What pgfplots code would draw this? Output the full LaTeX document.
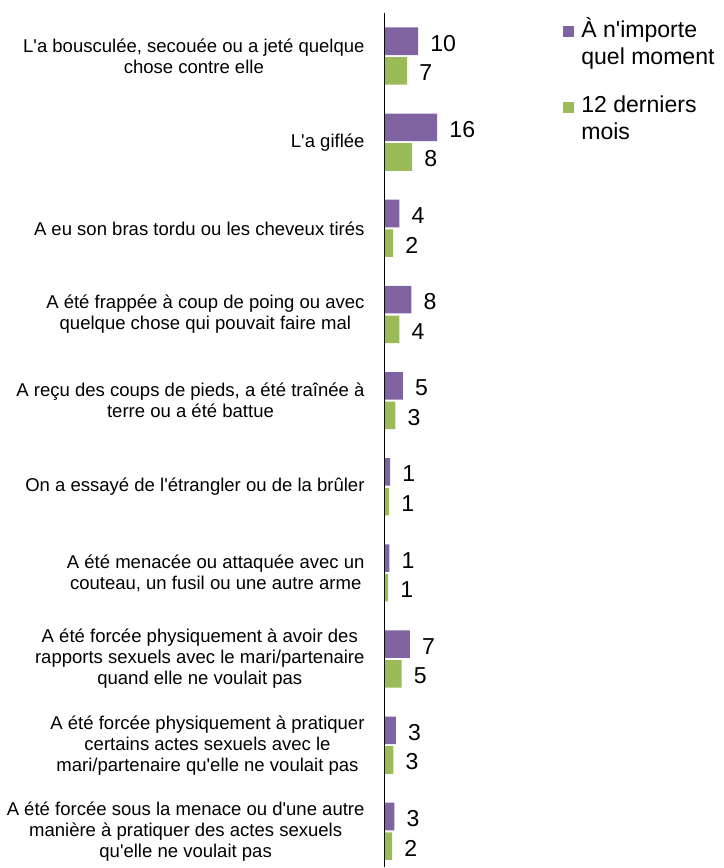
\documentclass[border=0pt]{standalone}
\usepackage{pgfplots}
\pgfplotsset{compat=1.18}
\usepackage{pgfplotstable}
\usepackage{fontspec}
\setmainfont{Liberation Sans}
\newcommand{\q}{\textquotesingle}
\definecolor{violetbar}{HTML}{8064A2}
\definecolor{vertbar}{HTML}{9BBB59}

\pgfplotstableread{
c v l
0 10.1 10
1 15.9 16
2 4.4 4
3 8.1 8
4 5.5 5
5 1.6 1
6 1.4 1
7 7.6 7
8 3.4 3
9 2.9 3
}\tablePurple

\pgfplotstableread{
c v l
0 6.8 7
1 8.3 8
2 2.5 2
3 4.4 4
4 3.2 3
5 1.3 1
6 1.0 1
7 5.1 5
8 2.6 3
9 2.2 2
}\tableGreen

\begin{document}
\begin{tikzpicture}
\begin{axis}[
  scale only axis,
  width=123.75pt, height=641.25pt,
  xmin=0, xmax=50,
  ymin=-0.5, ymax=9.42,
  y dir=reverse,
  axis x line=none,
  axis y line*=left,
  axis line style={-, black, line width=0.8pt},
  major tick length=0pt,
  ytick={0,...,9},
  yticklabels={
    {L\q a bousculée, secouée ou a jeté quelque\\chose contre elle},
    {L\q a giflée},
    {A eu son bras tordu ou les cheveux tirés},
    {A été frappée à coup de poing ou avec\\quelque chose qui pouvait faire mal},
    {A reçu des coups de pieds, a été traînée à\\terre ou a été battue},
    {On a essayé de l\q étrangler ou de la brûler},
    {A été menacée ou attaquée avec un\\couteau, un fusil ou une autre arme},
    {A été forcée physiquement à avoir des\\rapports sexuels avec le mari/partenaire\\quand elle ne voulait pas},
    {A été forcée physiquement à pratiquer\\certains actes sexuels avec le\\mari/partenaire qu\q elle ne voulait pas},
    {A été forcée sous la menace ou d\q une autre\\manière à pratiquer des actes sexuels\\qu\q elle ne voulait pas}
  },
  yticklabel style={align=center, font=\fontsize{13.9}{15.75}\selectfont, inner sep=0pt, xshift=-15pt},
  xbar,
  bar width=0.32,
  point meta=explicit symbolic,
  nodes near coords,
  every node near coord/.append style={font=\fontsize{17.3}{20}\selectfont, black, anchor=west, inner sep=0pt, xshift=9pt, yshift=-1.5pt},
  legend style={at={(1.055,1.0)}, anchor=north west, draw=none, fill=none,
    font=\fontsize{17.3}{20}\selectfont, row sep=19pt, column sep=4pt,
    nodes={inner sep=1.5pt}, cells={align=left}},
  legend cell align=left,
  legend image code/.code={\fill[#1] (0pt,3.9pt) rectangle (8.25pt,12.15pt);},
]
\addplot[fill=violetbar, draw=none, bar shift=-0.172] table[x=v, y=c, meta=l] {\tablePurple};
\addlegendentry{À n\q importe\\quel moment}
\addplot[fill=vertbar, draw=none, bar shift=0.172] table[x=v, y=c, meta=l] {\tableGreen};
\addlegendentry{12 derniers\\mois}
\end{axis}
\path (-288.75pt,0pt) rectangle (254.25pt,651pt);
\end{tikzpicture}
\end{document}
